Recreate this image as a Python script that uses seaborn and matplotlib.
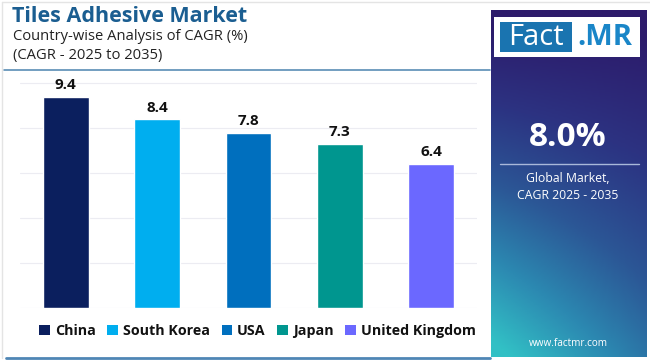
import numpy as np
import pandas as pd
import matplotlib
matplotlib.use("Agg")
import matplotlib.pyplot as plt
import seaborn as sns
from matplotlib.patches import Rectangle, Patch
from matplotlib.colors import LinearSegmentedColormap

countries = ["China", "South Korea", "USA", "Japan", "United Kingdom"]
cagr = [9.4, 8.4, 7.8, 7.3, 6.4]
colors = ["#0B1F5E", "#00AEEF", "#006FBE", "#00968F", "#6B68FF"]
yticks = [0, 2, 4, 6, 8, 10]
title = "Tiles Adhesive Market"
subtitle1 = "Country-wise Analysis of CAGR (%)"
subtitle2 = "(CAGR - 2025 to 2035)"
global_value = "8.0%"
global_label = "Global Market,\nCAGR 2025 - 2035"
website = "www.factmr.com"

sns.set_theme(style="white")
plt.rcParams['font.family'] = ['Open Sans', 'DejaVu Sans']

W, H = 650, 360
fig = plt.figure(figsize=(6.5, 3.6), dpi=100)
fig.patch.set_facecolor("white")

def fx(px):
    return px / W

def fy(py):
    return 1 - py / H

# main axes
ax_left, ax_right, ax_top, ax_bot = 20, 477, 70, 308.3
ax = fig.add_axes([fx(ax_left), fy(ax_bot), fx(ax_right - ax_left), (ax_bot - ax_top) / H])
df = pd.DataFrame({"country": countries, "cagr": cagr})
sns.barplot(data=df, x="country", y="cagr", hue="country", palette=colors,
            order=countries, hue_order=countries, width=0.5, legend=False, ax=ax,
            saturation=1)
ax.set_xlim(-0.5, len(countries) - 0.5)
ax.set_ylim(0, 10.6)
ax.set_yticks(yticks)
ax.yaxis.grid(True, color="#ECECF2", linewidth=0.8)
ax.set_axisbelow(True)
ax.set_yticklabels([])
ax.set_xticklabels([])
ax.tick_params(length=0)
ax.set_xlabel("")
ax.set_ylabel("")
for s in ax.spines.values():
    s.set_visible(False)
for i, v in enumerate(cagr):
    ax.text(i, v + 0.22, f"{v}", ha="center", va="bottom", fontsize=11,
            fontweight="bold", color="#111111")

# title
fig.text(fx(12), fy(17), title, fontsize=15.5, fontweight="bold", color="#1B5E91",
         va="center", ha="left")
fig.text(fx(13), fy(37), subtitle1, fontsize=10.6, color="#222222", va="center", ha="left")
fig.text(fx(13), fy(56), subtitle2, fontsize=10.6, color="#222222", va="center", ha="left")
fig.add_artist(plt.Line2D([fx(4), fx(490)], [fy(70), fy(70)], color="#5A8DB5", linewidth=1.2))

# frame borders
fig.add_artist(plt.Line2D([fx(6), fx(490)], [fy(358), fy(358)], color="#4F86B5", linewidth=2))
fig.add_artist(plt.Line2D([fx(2), fx(2)], [fy(2), fy(358)], color="#E4E4E4", linewidth=1))
fig.add_artist(plt.Line2D([fx(2), fx(650)], [fy(2), fy(2)], color="#E4E4E4", linewidth=1))

# legend
handles = [Patch(facecolor=c, edgecolor="none") for c in colors]
leg = fig.legend(handles, countries, loc="center", bbox_to_anchor=(fx(257.5), fy(331)),
                 ncol=5, frameon=False, handlelength=0.75, handleheight=0.75,
                 handletextpad=0.35, columnspacing=0.8,
                 prop={"weight": "bold", "size": 10.3})
for t in leg.get_texts():
    t.set_color("#111111")

# right panel gradient
px0, px1, py0, py1 = 491, 647, 10, 357
pax = fig.add_axes([fx(px0), fy(py1), fx(px1 - px0), (py1 - py0) / H])
ny, nx = 200, 100
yy, xx = np.mgrid[0:1:ny * 1j, 0:1:nx * 1j]
t = np.clip(0.7 * yy + 0.4 * (1 - xx) * yy - 0.05, 0, 1)
cmap = LinearSegmentedColormap.from_list("fm", ["#2D1B6B", "#2C3382", "#2B5796", "#2C8AB2", "#32C0C5"])
pax.imshow(t, cmap=cmap, aspect="auto", extent=[0, 1, 1, 0], origin="upper", vmin=0, vmax=1)
pax.set_xlim(0, 1)
pax.set_ylim(1, 0)
pax.axis("off")

# logo
fig.add_artist(Rectangle((fx(494), fy(57)), fx(146), (57 - 17) / H, facecolor="white",
                         edgecolor="none", transform=fig.transFigure))
fig.add_artist(Rectangle((fx(500), fy(52)), fx(72), (52 - 22) / H, facecolor="#1A74B0",
                         edgecolor="none", transform=fig.transFigure))
fig.text(fx(536), fy(37.5), "Fact", fontsize=21, color="white", ha="center", va="center")
fig.text(fx(605), fy(37.5), ".MR", fontsize=21, color="#1A86C8", ha="center", va="center",
         fontweight="bold")

fig.text(fx(568), fy(137), global_value, fontsize=24, fontweight="bold", color="white",
         ha="center", va="center")
fig.add_artist(plt.Line2D([fx(500), fx(639)], [fy(164), fy(164)], color="#A9B8DA", linewidth=1))
fig.text(fx(568), fy(187), global_label, fontsize=8.8, color="white", ha="center",
         va="center", linespacing=1.4)
fig.text(fx(568), fy(343), website, fontsize=7.2, color="white", ha="center", va="center")

fig.savefig("out.png", dpi=100, facecolor="white")
